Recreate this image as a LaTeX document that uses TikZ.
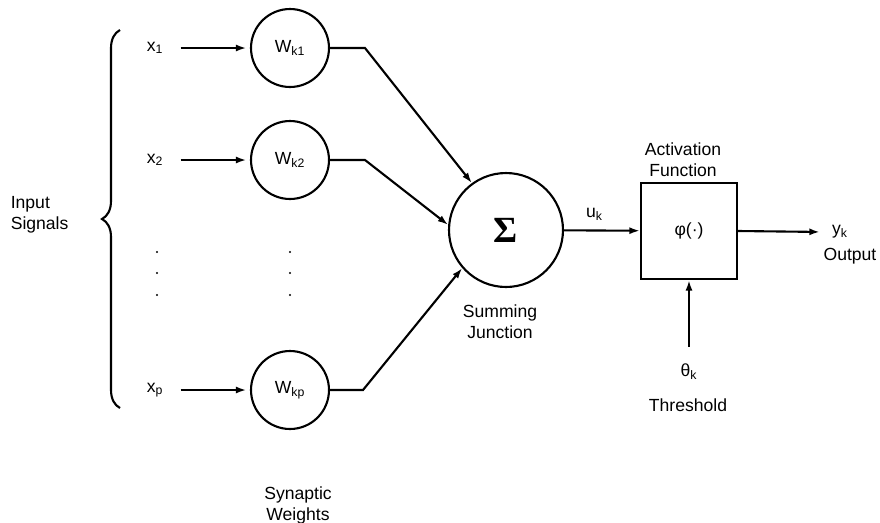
\documentclass[tikz,border=0pt]{standalone}
\usepackage{fontspec}
\setmainfont{Liberation Sans}
\newfontfamily\sigmafont{Liberation Serif}
\usetikzlibrary{arrows.meta,decorations.pathreplacing}

\begin{document}
\begin{tikzpicture}[x=0.02cm,y=-0.02cm,line width=1.2pt,
  >={Latex[length=6pt,width=4pt]},
  weight/.style={draw,circle,minimum size=1.56cm,inner sep=0pt},
  lbl/.style={align=center,inner sep=1pt}]
\useasboundingbox (0,0) rectangle (880,522);
% input signals
\node (x1) at (155,48) {x\textsubscript{1}};
\node (x2) at (155,160) {x\textsubscript{2}};
\node (xp) at (155,390) {x\textsubscript{p}};
\fill (157,252) circle (0.7pt);
\fill (157,273) circle (0.7pt);
\fill (157,295) circle (0.7pt);
\draw[decorate,decoration={brace,amplitude=0.36cm}] (120,408) -- (120,30);
\node[lbl,anchor=west,align=left] (insig) at (8,215) {Input\\Signals};
% synaptic weights
\node[weight] (w1) at (290,48) {W\textsubscript{k1}};
\node[weight] (w2) at (290,160) {W\textsubscript{k2}};
\node[weight] (wp) at (290,390) {W\textsubscript{kp}};
\fill (290,252) circle (0.7pt);
\fill (290,273) circle (0.7pt);
\fill (290,295) circle (0.7pt);
\node[lbl] (synw) at (298,505) {Synaptic\\Weights};
\draw[->,shorten <=6pt,shorten >=2pt] (x1) -- (w1);
\draw[->,shorten <=6pt,shorten >=2pt] (x2) -- (w2);
\draw[->,shorten <=6pt,shorten >=2pt] (xp) -- (wp);
% summing junction
\node[draw,circle,minimum size=2.28cm] (sum) at (506,230) {\sigmafont\bfseries\fontsize{21}{21}\selectfont Σ};
\node[lbl] (sumlbl) at (500,322) {Summing\\Junction};
\draw[->] (w1.east) -- (365,48) -- (sum.126);
\draw[->] (w2.east) -- (365,160) -- (sum.175);
\draw[->] (wp.east) -- (363,390) -- (sum.221);
% activation function
\node[draw,minimum size=1.92cm] (act) at (689,231) {φ(·)};
\node[lbl] (actlbl) at (683,160) {Activation\\Function};
\draw[->] (sum) -- node[pos=0.4,above,yshift=2pt] {u\textsubscript{k}} (act);
% output and threshold
\node (yk) at (840,232) {y\textsubscript{k}};
\node (outlbl) at (850,256) {Output};
\draw[->,shorten >=3pt] (act.east) -- (yk.west);
\node (theta) at (689,372) {θ\textsubscript{k}};
\node (thrlbl) at (688,405) {Threshold};
\draw[->,shorten <=6pt] (theta) -- (act);
\end{tikzpicture}
\end{document}
